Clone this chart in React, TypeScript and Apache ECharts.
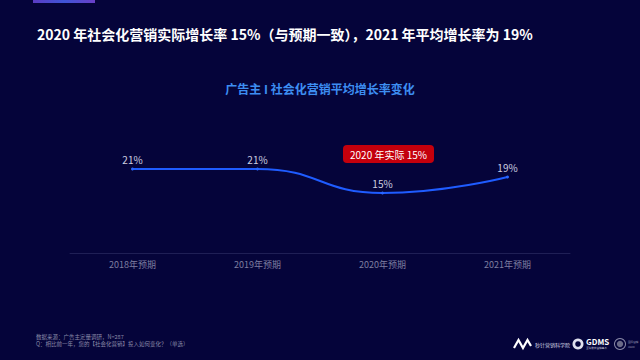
import React, { useEffect, useRef } from "react";
import * as echarts from "echarts";

const categories = ["2018年预期", "2019年预期", "2020年预期", "2021年预期"];
const growthValues = [21, 21, 15, 19];
const headline = "2020 年社会化营销实际增长率 15%（与预期一致），2021 年平均增长率为 19%";
const chartTitle = "广告主 I 社会化营销平均增长率变化";
const callout = "2020 年实际 15%";
const sourceNote = "数据来源：广告主定量调研，N=287";
const questionNote = "Q：相比前一年，您的【社会化营销】投入如何变化？（单选）";

const FONT = "'Noto Sans CJK SC', 'Noto Sans', sans-serif";

export default function App() {
  const ref = useRef<HTMLDivElement>(null);
  useEffect(() => {
    const chart = echarts.init(ref.current!, null, { renderer: "svg" });
    chart.setOption({
      animation: false,
      backgroundColor: "#05043a",
      textStyle: { fontFamily: FONT },
      grid: { left: 70, right: 70, top: 133, bottom: 107 },
      xAxis: {
        type: "category",
        data: categories,
        boundaryGap: true,
        axisLine: { lineStyle: { color: "#1f1f55", width: 1 } },
        axisTick: { show: false },
        axisLabel: { color: "#7e7ea0", fontSize: 9, margin: 7, fontFamily: FONT },
      },
      yAxis: {
        type: "value",
        min: 0,
        max: 30,
        show: false,
        splitLine: { show: false },
      },
      series: [
        {
          type: "line",
          data: growthValues,
          smooth: 0.5,
          symbol: "circle",
          symbolSize: 3,
          lineStyle: { color: "#1f5cff", width: 2 },
          itemStyle: { color: "#2a66ff" },
          label: {
            show: true,
            position: "top",
            distance: 3,
            formatter: "{c}%",
            color: "#cfcfe0",
            fontSize: 10,
            fontFamily: FONT,
          },
        },
      ],
      graphic: [
        {
          type: "rect",
          shape: { x: 33, y: 0, width: 62, height: 3 },
          style: {
            fill: new echarts.graphic.LinearGradient(0, 0, 1, 0, [
              { offset: 0, color: "#5b3cc4" },
              { offset: 0.5, color: "#3f55d6" },
              { offset: 1, color: "#6a3fc8" },
            ]),
          },
        },
        {
          type: "text",
          x: 37,
          y: 34,
          style: {
            text: headline,
            fill: "#ffffff",
            font: `bold 14px ${FONT}`,
            verticalAlign: "middle",
          },
        },
        {
          type: "text",
          x: 320,
          y: 88,
          style: {
            text: chartTitle,
            fill: "#3d8ef2",
            font: `bold 12px ${FONT}`,
            align: "center",
            verticalAlign: "middle",
          },
        },
        {
          type: "rect",
          shape: { x: 343, y: 145, width: 91, height: 18, r: 4 },
          style: { fill: "#c4000c" },
        },
        {
          type: "text",
          x: 388.5,
          y: 154,
          style: {
            text: callout,
            fill: "#ffffff",
            font: `10px ${FONT}`,
            align: "center",
            verticalAlign: "middle",
          },
        },
        {
          type: "text",
          x: 36,
          y: 337,
          style: {
            text: sourceNote,
            fill: "#8a8aa8",
            font: `5.5px ${FONT}`,
            verticalAlign: "middle",
          },
        },
        {
          type: "text",
          x: 36,
          y: 344,
          style: {
            text: questionNote,
            fill: "#8a8aa8",
            font: `5.5px ${FONT}`,
            verticalAlign: "middle",
          },
        },
        {
          type: "polyline",
          shape: {
            points: [
              [514, 348],
              [518.5, 340],
              [523, 348],
              [527.5, 340],
              [531, 346],
            ],
          },
          style: { stroke: "#ffffff", lineWidth: 2.2, fill: null },
        },
        {
          type: "text",
          x: 535,
          y: 344,
          style: {
            text: "秒针营销科学院",
            fill: "#d8d8e8",
            font: `5px ${FONT}`,
            verticalAlign: "middle",
          },
        },
        {
          type: "ring",
          shape: { cx: 578, cy: 344, r: 5.5, r0: 2.8 },
          style: { fill: "#e0e0ee" },
        },
        {
          type: "text",
          x: 586,
          y: 341,
          style: {
            text: "GDMS",
            fill: "#ffffff",
            font: `bold 8px ${FONT}`,
            verticalAlign: "middle",
          },
        },
        {
          type: "text",
          x: 586,
          y: 348,
          style: {
            text: "全球数字营销峰会",
            fill: "#c0c0d8",
            font: `2.6px ${FONT}`,
            verticalAlign: "middle",
          },
        },
        {
          type: "ring",
          shape: { cx: 620, cy: 344, r: 6, r0: 5 },
          style: { fill: "#8a8aa8" },
        },
        {
          type: "circle",
          shape: { cx: 620, cy: 344, r: 3.2 },
          style: { fill: "#6a6a88" },
        },
        {
          type: "text",
          x: 628,
          y: 342,
          style: {
            text: "国际营销",
            fill: "#9a9ab8",
            font: `2.6px ${FONT}`,
            verticalAlign: "middle",
          },
        },
        {
          type: "text",
          x: 628,
          y: 346.5,
          style: {
            text: "ASSOC",
            fill: "#9a9ab8",
            font: `2.2px ${FONT}`,
            verticalAlign: "middle",
          },
        },
      ],
    });
    return () => chart.dispose();
  }, []);
  return <div ref={ref} style={{ width: 640, height: 360, position: "fixed", left: 0, top: 0 }} />;
}
